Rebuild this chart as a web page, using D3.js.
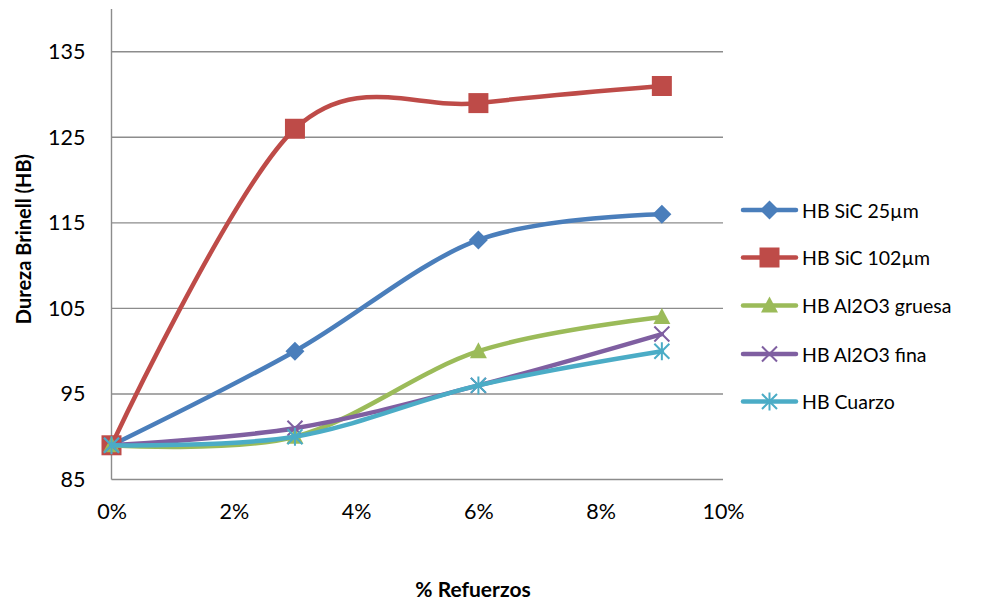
<!DOCTYPE html>
<html>
<head>
<meta charset="utf-8">
<script src="https://cdn.jsdelivr.net/npm/d3@7"></script>
<style>
  html, body { margin: 0; padding: 0; background: #fff; }
  svg { display: block; font-family: Lato, "Open Sans", sans-serif; }
</style>
</head>
<body>
<svg id="chart" width="988" height="604"></svg>
<script>
// Reinforcement percentages (x) and Brinell hardness per reinforcement type
const refuerzos = [0, 0.03, 0.06, 0.09];
const seriesNames = ["HB SiC 25µm", "HB SiC 102µm", "HB Al2O3 gruesa", "HB Al2O3 fina", "HB Cuarzo"];
const sic25 = [89, 100, 113, 116];
const sic102 = [89, 126, 129, 131];
const al2o3Gruesa = [89, 90, 100, 104];
const al2o3Fina = [89, 91, 96, 102];
const cuarzo = [89, 90, 96, 100];
const yTicks = [85, 95, 105, 115, 125, 135];
const xTicks = [0, 0.02, 0.04, 0.06, 0.08, 0.10];

const colors = ["#4A7EBB", "#BE4B48", "#9BBB59", "#7F5FA1", "#4BACC6"];
const markers = ["diamond", "square", "triangle", "x", "star"];
const values = [sic25, sic102, al2o3Gruesa, al2o3Fina, cuarzo];

const svg = d3.select("#chart");
const x = d3.scaleLinear().domain([0, 0.10]).range([111.5, 723]);
const y = d3.scaleLinear().domain([85, 140]).range([479.5, 9]);

// Horizontal gridlines
svg.append("g")
  .selectAll("line")
  .data(yTicks)
  .join("line")
  .attr("x1", x(0)).attr("x2", x(0.10))
  .attr("y1", d => y(d)).attr("y2", d => y(d))
  .attr("stroke", "#8c8c8c").attr("stroke-width", 1.4);

// Vertical axis line
svg.append("line")
  .attr("x1", x(0)).attr("x2", x(0))
  .attr("y1", y(140)).attr("y2", y(85))
  .attr("stroke", "#8c8c8c").attr("stroke-width", 1.4);

// Y axis labels
const yAxis = d3.axisLeft(y).tickValues(yTicks).tickSize(0).tickPadding(26).tickFormat(d3.format("d"));
const gy = svg.append("g").attr("transform", `translate(${x(0)},0)`).call(yAxis);
gy.select(".domain").remove();
gy.selectAll("text").attr("font-size", 21.5).attr("fill", "#000").attr("font-family", "Lato, sans-serif");

// X axis labels
const xAxis = d3.axisBottom(x).tickValues(xTicks).tickSize(0).tickPadding(24).tickFormat(d3.format(".0%"));
const gx = svg.append("g").attr("transform", `translate(0,${y(85)})`).call(xAxis);
gx.select(".domain").remove();
gx.selectAll("text").attr("font-size", 21.5).attr("fill", "#000").attr("font-family", "Lato, sans-serif");

// Axis titles
svg.append("text")
  .attr("transform", `translate(31,239) rotate(-90)`)
  .attr("text-anchor", "middle")
  .attr("font-weight", "bold").attr("font-size", 20)
  .text("Dureza Brinell (HB)");
svg.append("text")
  .attr("x", 473).attr("y", 597)
  .attr("text-anchor", "middle")
  .attr("font-weight", "bold").attr("font-size", 21)
  .text("% Refuerzos");

// Marker drawing helper
function drawMarker(g, type, color) {
  if (type === "diamond") {
    g.append("path").attr("d", "M0,-9.5L9.5,0L0,9.5L-9.5,0Z").attr("fill", color);
  } else if (type === "square") {
    g.append("rect").attr("x", -10).attr("y", -10).attr("width", 20).attr("height", 20).attr("fill", color);
  } else if (type === "triangle") {
    g.append("path").attr("d", "M0,-9L8.5,7L-8.5,7Z").attr("fill", color);
  } else if (type === "x") {
    g.append("path").attr("d", "M-7.5,-7.5L7.5,7.5M7.5,-7.5L-7.5,7.5")
      .attr("stroke", color).attr("stroke-width", 2).attr("fill", "none");
  } else if (type === "star") {
    g.append("path").attr("d", "M-7.5,-7.5L7.5,7.5M7.5,-7.5L-7.5,7.5M0,-9L0,9")
      .attr("stroke", color).attr("stroke-width", 2).attr("fill", "none");
  }
}

// Smoothed series lines with markers
const line = d3.line()
  .x((d, i) => x(refuerzos[i]))
  .y(d => y(d))
  .curve(d3.curveCatmullRom.alpha(0));

values.forEach((vals, si) => {
  const g = svg.append("g");
  g.append("path")
    .datum(vals)
    .attr("d", line)
    .attr("fill", "none")
    .attr("stroke", colors[si])
    .attr("stroke-width", 4.5)
    .attr("stroke-linejoin", "round")
    .attr("stroke-linecap", "round");
  vals.forEach((v, i) => {
    const m = g.append("g").attr("transform", `translate(${x(refuerzos[i])},${y(v)})`);
    drawMarker(m, markers[si], colors[si]);
  });
});

// Legend
const legend = svg.append("g");
const legendY = [210, 257.5, 305.5, 354, 401.5];
seriesNames.forEach((name, i) => {
  const g = legend.append("g").attr("transform", `translate(0,${legendY[i]})`);
  g.append("line")
    .attr("x1", 743).attr("x2", 796).attr("y1", 0).attr("y2", 0)
    .attr("stroke", colors[i]).attr("stroke-width", 4.5).attr("stroke-linecap", "round");
  const m = g.append("g").attr("transform", "translate(769.5,0)");
  drawMarker(m, markers[i], colors[i]);
  g.append("text")
    .attr("x", 802).attr("y", 7.5)
    .attr("font-size", 19.5)
    .attr("fill", "#000")
    .text(name);
});
</script>
</body>
</html>
